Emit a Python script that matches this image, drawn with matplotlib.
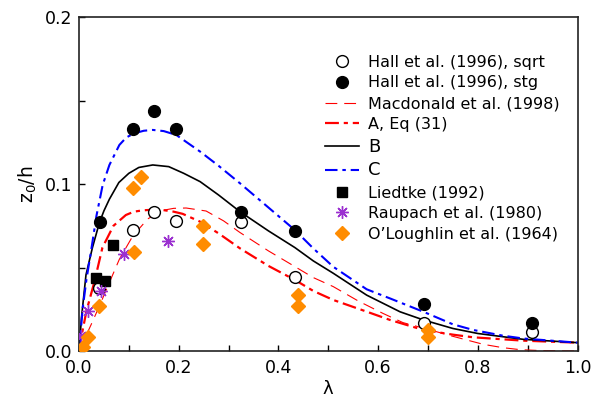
import matplotlib
matplotlib.use("Agg")
import matplotlib.pyplot as plt
from matplotlib.legend_handler import HandlerLine2D
from matplotlib.ticker import MultipleLocator, FormatStrFormatter

plt.rcParams['font.family'] = ['DejaVu Sans']
plt.rcParams['lines.scale_dashes'] = False
plt.rcParams['mathtext.default'] = 'regular'

# ---- data ----
hall_sqrt_x = [0.040, 0.108, 0.150, 0.195, 0.324, 0.433, 0.692, 0.909]
hall_sqrt_y = [0.0378, 0.0725, 0.0832, 0.0779, 0.0775, 0.0445, 0.0170, 0.0112]

hall_stg_x = [0.042, 0.108, 0.150, 0.195, 0.324, 0.433, 0.692, 0.909]
hall_stg_y = [0.0775, 0.1331, 0.1441, 0.1331, 0.0832, 0.0721, 0.0280, 0.0170]

liedtke_x = [0.034, 0.053, 0.068]
liedtke_y = [0.0439, 0.0420, 0.0634]

raupach_x = [0.005, 0.019, 0.044, 0.090, 0.179]
raupach_y = [0.009, 0.024, 0.036, 0.058, 0.066]

oloughlin_x = [0.009, 0.019, 0.040, 0.110, 0.109, 0.124, 0.249, 0.249, 0.440, 0.440, 0.700, 0.700]
oloughlin_y = [0.0026, 0.0082, 0.0270, 0.0594, 0.0979, 0.1043, 0.0749, 0.0641, 0.0334, 0.0270, 0.0126, 0.0084]

macd_x = [0.0, 0.010, 0.024, 0.041, 0.058, 0.081, 0.108, 0.138, 0.168, 0.190, 0.215, 0.255,
          0.290, 0.323, 0.380, 0.433, 0.470, 0.510, 0.560, 0.610, 0.650, 0.700, 0.750,
          0.811, 0.850, 0.885, 0.930, 1.0]
macd_y = [0.0, 0.0065, 0.0156, 0.0270, 0.0390, 0.0550, 0.0690, 0.0792, 0.0843, 0.0855, 0.0857, 0.0839,
          0.0780, 0.0710, 0.0600, 0.0506, 0.0440, 0.0386, 0.0300, 0.0225, 0.0170, 0.0130, 0.0088,
          0.0040, 0.0020, 0.0008, 0.0002, 0.0]

a_x = [0.0, 0.0074, 0.015, 0.031, 0.047, 0.069, 0.094, 0.110, 0.128, 0.150, 0.168, 0.190,
       0.208, 0.243, 0.280, 0.323, 0.380, 0.433, 0.470, 0.510, 0.577, 0.624, 0.691, 0.750,
       0.791, 0.891, 1.0]
a_y = [0.0, 0.0126, 0.0240, 0.0416, 0.0620, 0.0750, 0.0815, 0.0835, 0.0843, 0.0847, 0.0845, 0.0835,
       0.0822, 0.0775, 0.0705, 0.0615, 0.0510, 0.0426, 0.0360, 0.0306, 0.0236, 0.0186, 0.0126, 0.0098,
       0.0082, 0.0062, 0.0050]

b_x = [0.0, 0.005, 0.014, 0.027, 0.041, 0.050, 0.061, 0.080, 0.100, 0.120, 0.148, 0.180,
       0.210, 0.243, 0.280, 0.323, 0.380, 0.433, 0.470, 0.510, 0.577, 0.644, 0.691, 0.750,
       0.800, 0.891, 1.0]
b_y = [0.0, 0.0200, 0.0456, 0.0620, 0.0770, 0.0840, 0.0910, 0.1010, 0.1065, 0.1100, 0.1115, 0.1105,
       0.1065, 0.1015, 0.0935, 0.0835, 0.0720, 0.0620, 0.0540, 0.0466, 0.0335, 0.0235, 0.0186, 0.0135,
       0.0105, 0.0070, 0.0050]

c_x = [0.0, 0.004, 0.0074, 0.015, 0.024, 0.035, 0.0475, 0.061, 0.081, 0.095, 0.111, 0.130,
       0.148, 0.170, 0.195, 0.243, 0.280, 0.323, 0.380, 0.433, 0.470, 0.510, 0.577, 0.624,
       0.691, 0.750, 0.791, 0.850, 0.891, 1.0]
c_y = [0.0, 0.0136, 0.0256, 0.0430, 0.0595, 0.0810, 0.0995, 0.1115, 0.1235, 0.1280, 0.1305, 0.1320,
       0.1325, 0.1318, 0.1295, 0.1195, 0.1110, 0.1005, 0.0860, 0.0725, 0.0615, 0.0505, 0.0370, 0.0315,
       0.0235, 0.0160, 0.0126, 0.0092, 0.0075, 0.0050]

labels = ["Hall et al. (1996), sqrt", "Hall et al. (1996), stg", "Macdonald et al. (1998)",
          "A, Eq (31)", "B", "C", "Liedtke (1992)", "Raupach et al. (1980)",
          "O\u2019Loughlin et al. (1964)"]

fig = plt.figure(figsize=(6.07, 4.00), dpi=100)
ax = fig.add_axes([79/607, 49/400, 498.5/607, 333.7/400])

l_macd, = ax.plot(macd_x, macd_y, color='red', lw=0.8, dashes=(8.5, 5))
l_a, = ax.plot(a_x, a_y, color='red', lw=1.6, dashes=(10, 3.5, 3, 3.5))
l_b, = ax.plot(b_x, b_y, color='black', lw=1.2)
l_c, = ax.plot(c_x, c_y, color='blue', lw=1.5, dashes=(9, 3.5, 2.5, 3.5))

p_sqrt, = ax.plot(hall_sqrt_x, hall_sqrt_y, ls='none', marker='o', ms=8.5,
                  mfc='white', mec='black', mew=1.0, zorder=5)
p_stg, = ax.plot(hall_stg_x, hall_stg_y, ls='none', marker='o', ms=8.5,
                 mfc='black', mec='black', zorder=5)
p_lied, = ax.plot(liedtke_x, liedtke_y, ls='none', marker='s', ms=7.5,
                  mfc='black', mec='black', zorder=5)
p_rau, = ax.plot(raupach_x, raupach_y, ls='none', marker=(8, 2, 0), ms=9,
                 mec='#9b30d0', mew=1.0, zorder=5)
p_olo, = ax.plot(oloughlin_x, oloughlin_y, ls='none', marker='D', ms=7.5,
                 mfc='#ff8c00', mec='#ff8c00', zorder=5)

ax.set_xlim(0, 1.0)
ax.set_ylim(0, 0.2)
ax.xaxis.set_major_locator(MultipleLocator(0.2))
ax.xaxis.set_minor_locator(MultipleLocator(0.1))
ax.yaxis.set_major_locator(MultipleLocator(0.1))
ax.yaxis.set_minor_locator(MultipleLocator(0.05))
ax.xaxis.set_major_formatter(FormatStrFormatter('%.1f'))
ax.yaxis.set_major_formatter(FormatStrFormatter('%.1f'))
ax.tick_params(which='both', direction='in', length=4.5, width=1.0, labelsize=12.5,
               top=False, right=False)
ax.tick_params(axis='x', pad=6)
ax.tick_params(axis='y', pad=5)
for s in ax.spines.values():
    s.set_linewidth(1.2)
    s.set_color('#222222')

ax.set_xlabel('\u03bb', fontsize=13, labelpad=2)
ax.set_ylabel('z$_0$/h', fontsize=13.5, labelpad=4)


class RightMarker(HandlerLine2D):
    def get_xdata(self, legend, xdescent, ydescent, width, height, fontsize):
        xdata = [-xdescent, -xdescent + width]
        xdata_marker = [-xdescent + width]
        return xdata, xdata_marker


handles = [p_sqrt, p_stg, l_macd, l_a, l_b, l_c, p_lied, p_rau, p_olo]
hmap = {h: RightMarker() for h in [p_sqrt, p_stg, p_lied, p_rau, p_olo]}
leg = ax.legend(handles, labels, loc='upper left', bbox_to_anchor=((325 - 79) / 498.5, 0.888),
                frameon=False, fontsize=11.5, handlelength=2.1, handletextpad=0.6,
                labelspacing=0.36, borderpad=0, borderaxespad=0, handler_map=hmap)
leg.get_texts()[4].set_fontsize(13)
leg.get_texts()[5].set_fontsize(13)

fig.savefig('out.png', dpi=100)
